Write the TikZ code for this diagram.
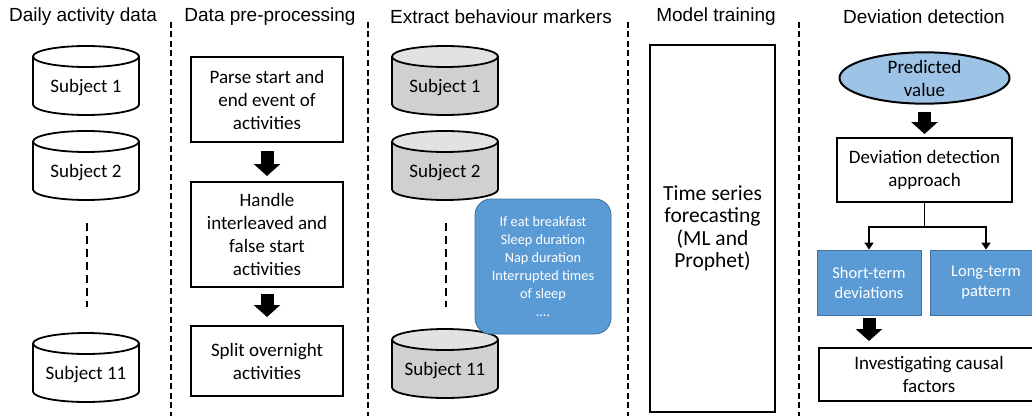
\documentclass[tikz,border=0pt]{standalone}
\usepackage{fontspec}
\setmainfont{Carlito}
\newfontfamily\titlefont{Liberation Sans}
\usetikzlibrary{shapes.geometric,arrows.meta}
\definecolor{bluefill}{HTML}{5B9BD5}
\definecolor{blueline}{HTML}{41719C}
\definecolor{lightblue}{HTML}{9DC3E6}
\definecolor{cylbody}{HTML}{D0D0D0}
\definecolor{cyltop}{HTML}{E2E2E2}
\newcommand\cylnode[6]{%
  \filldraw[fill=#5, line width=1.8pt] ({#2-53},{#3+58.5}) -- ({#2-53},{#3+10.5})
    arc[start angle=180,end angle=360,x radius=53,y radius=10.5] -- ({#2+53},{#3+58.5});
  \filldraw[fill=#6, line width=1.8pt] (#2,{#3+58.5}) ellipse[x radius=53,y radius=10.5];
  \node[body] (#1) at (#2,{#3+27}) {#4};
}
\begin{document}
\begin{tikzpicture}[x=1pt,y=1pt,
  title/.style={font=\titlefont\fontsize{19}{22}\selectfont, inner sep=0pt},
  body/.style={font=\fontsize{19}{23}\selectfont, align=center, inner sep=0pt},
  box/.style={draw, line width=2pt, body},
  bluebox/.style={draw=blueline, line width=0.8pt, fill=bluefill, text=white, align=center, inner sep=0pt, font=\fontsize{16.5}{20}\selectfont},
  sep/.style={line width=1.8pt, dash pattern=on 6pt off 3.5pt},
  vdots/.style={line width=1.6pt, dash pattern=on 8pt off 5pt},
  blockarrow/.style={line width=13pt, -{Triangle[length=12pt,width=26pt]}},
  conn/.style={line width=1.6pt},
  connarrow/.style={conn, -{Triangle[length=7pt,width=9pt]}}
]
\useasboundingbox (0,0) rectangle (1032,416);

% separators
\draw[sep] (171,394) -- (171,0);
\draw[sep] (368,394) -- (368,0);
\draw[sep] (628,394) -- (628,0);
\draw[sep] (799,394) -- (799,0);

% titles
\node[title] (t1) at (83,399) {Daily activity data};
\node[title] (t2) at (270,399) {Data pre-processing};
\node[title] (t3) at (501,399) {Extract behaviour markers};
\node[title] (t4) at (716,399) {Model training};
\node[title] (t5) at (924,399) {Deviation detection};

% column 1
\cylnode{a1}{86}{301}{Subject 1}{white}{white}
\cylnode{a2}{86}{216}{Subject 2}{white}{white}
\cylnode{a11}{86}{14}{Subject 11}{white}{white}
\draw[vdots] (87,193) -- (87,109);

% column 2
\node[box, minimum width=152pt, minimum height=85pt] (p1) at (267,316.5) {Parse start and\\end event of\\activities};
\node[box, minimum width=152pt, minimum height=105pt] (p2) at (267,181.5) {Handle\\interleaved and\\false start\\activities};
\node[box, minimum width=152pt, minimum height=70pt] (p3) at (267,55) {Split overnight\\activities};
\draw[blockarrow, shorten <=8pt, shorten >=5pt] (p1) -- (p2);
\draw[blockarrow, shorten <=6pt, shorten >=8pt] (p2) -- (p3);

% column 3
\cylnode{b1}{445}{301}{Subject 1}{cylbody}{cyltop}
\cylnode{b2}{445}{216}{Subject 2}{cylbody}{cyltop}
\cylnode{b11}{445}{18}{Subject 11}{cylbody}{cyltop}
\draw[vdots] (446,193) -- (446,109);
\node[draw=blueline, line width=0.8pt, fill=bluefill, rounded corners=16pt, text=white,
  minimum width=136pt, minimum height=135pt, align=center, inner sep=0pt,
  font=\fontsize{14.3}{18}\selectfont] (markers) at (543,149.5)
  {If eat breakfast\\Sleep duration\\Nap duration\\Interrupted times\\of sleep\\....};

% column 4
\node[box, minimum width=125pt, minimum height=367pt, font=\fontsize{21.5}{22.5}\selectfont] (model) at (712.5,187.5)
  {Time series\\forecasting\\(ML and\\Prophet)};

% column 5
\node[ellipse, draw, line width=2pt, fill=lightblue, minimum width=170pt, minimum height=50pt, body] (pred) at (924.5,338) {Predicted\\value};
\node[box, minimum width=175pt, minimum height=64pt] (dd) at (924.5,246) {Deviation detection\\approach};
\draw[blockarrow, shorten <=7pt, shorten >=3pt] (pred) -- (dd);
\node[bluebox, minimum width=104pt, minimum height=65pt] (short) at (869,133.5) {Short-term\\deviations};
\node[bluebox, minimum width=112pt, minimum height=65pt] (long) at (986,133.5) {Long-term\\pattern};
\draw[conn] (dd.south) -- ++(0,-24) coordinate (split);
\draw[connarrow] (split) -| (short);
\draw[connarrow] (split) -| (long);
\node[box, minimum width=220pt, minimum height=53pt] (inv) at (929,41.5) {Investigating causal\\factors};
\draw[blockarrow, shorten <=3pt, shorten >=6pt] (short.south) -- (short.south |- inv.north);
\end{tikzpicture}
\end{document}
